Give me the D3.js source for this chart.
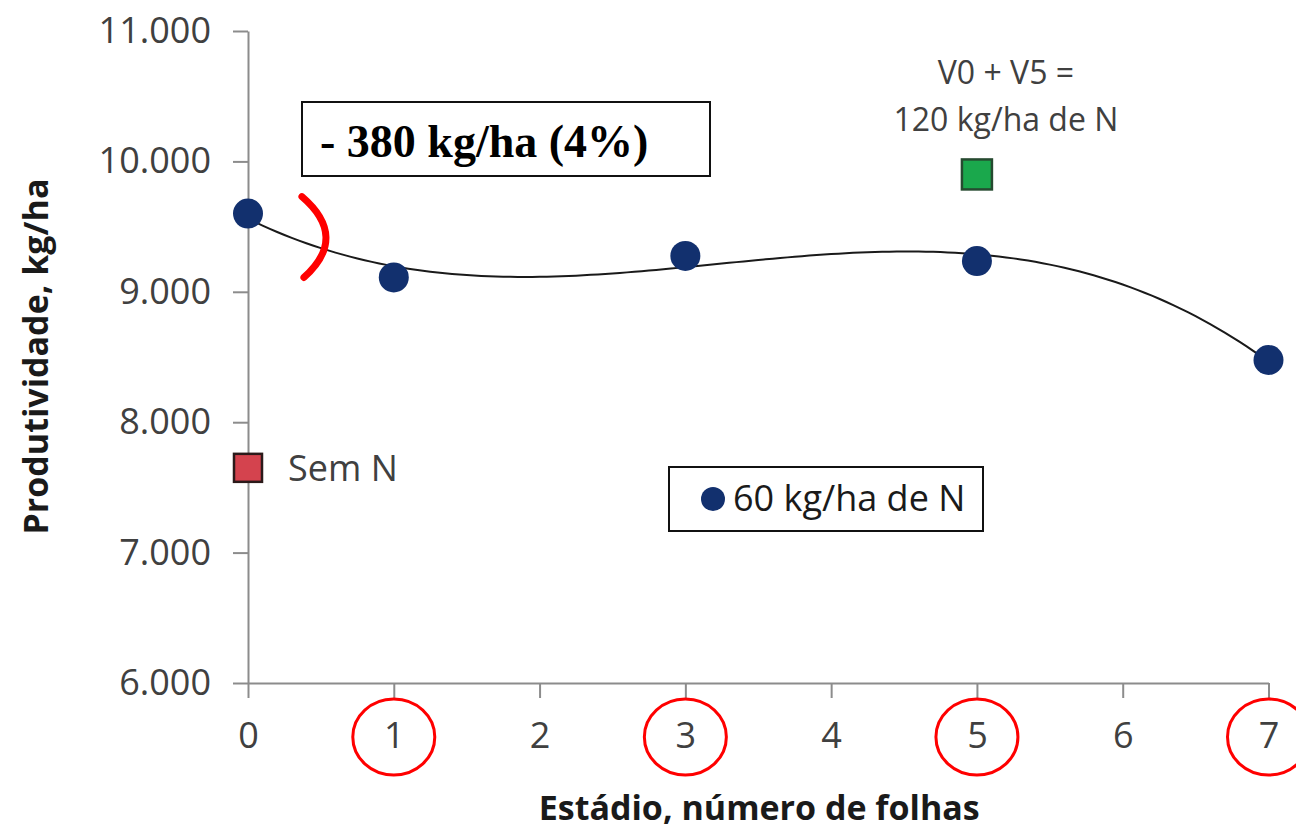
<!DOCTYPE html>
<html>
<head>
<meta charset="utf-8">
<script src="https://cdn.jsdelivr.net/npm/d3@7"></script>
<style>
  html, body { margin: 0; padding: 0; background: #fff; }
  svg { display: block; }
</style>
</head>
<body>
<svg id="chart" width="1296" height="830"></svg>
<script>
// Growth stage (number of leaves) at which 60 kg/ha of N was applied
const stages = [0, 1, 3, 5, 7];
// Grain yield, kg/ha, for 60 kg/ha de N
const yield60 = [9600, 9110, 9275, 9236, 8477];
// Control without nitrogen
const semNStage = [0];
const semNValue = [7650];
// Split application V0 + V5 (120 kg/ha de N)
const splitStage = [5];
const splitValue = [9900];
// Axis ticks
const xTicks = [0, 1, 2, 3, 4, 5, 6, 7];
const yTicks = [6000, 7000, 8000, 9000, 10000, 11000];
// Stages circled on the x axis
const circledStages = [1, 3, 5, 7];

const svg = d3.select("#chart");
const plotLeft = 248, plotRight = 1268.5, plotTop = 31, plotBottom = 683;

const x = d3.scaleLinear().domain([0, 7]).range([plotLeft, plotRight]);
const y = d3.scaleLinear().domain([6000, 11000]).range([plotBottom, plotTop]);

const ptBR = d3.formatLocale({ decimal: ",", thousands: ".", grouping: [3], currency: ["", ""] });
const fmt = ptBR.format(",d");

const sans = "'Open Sans', 'Noto Sans', sans-serif";
const axisGray = "#8c8c8c";
const textGray = "#404040";

// Y axis
const yAxis = svg.append("g")
  .attr("transform", `translate(${plotLeft},0)`)
  .call(d3.axisLeft(y).tickValues(yTicks).tickFormat(fmt).tickSize(15).tickSizeOuter(0).tickPadding(22));

// X axis
const xAxis = svg.append("g")
  .attr("transform", `translate(0,${plotBottom})`)
  .call(d3.axisBottom(x).tickValues(xTicks).tickFormat(d3.format("d")).tickSize(15).tickSizeOuter(0).tickPadding(24));

[yAxis, xAxis].forEach(g => {
  g.select(".domain").attr("stroke", axisGray).attr("stroke-width", 2);
  g.selectAll(".tick line").attr("stroke", axisGray).attr("stroke-width", 2);
  g.selectAll(".tick text")
    .attr("fill", textGray)
    .style("font-family", sans)
    .style("font-size", "36px");
});

// Axis titles
svg.append("text")
  .attr("x", (plotLeft + plotRight) / 2 + 1)
  .attr("y", 820)
  .attr("text-anchor", "middle")
  .style("font-family", sans).style("font-size", "34px").style("font-weight", 700)
  .attr("fill", "#1a1a1a")
  .text("Estádio, número de folhas");

svg.append("text")
  .attr("transform", `translate(48,${(178 + 535) / 2}) rotate(-90)`)
  .attr("text-anchor", "middle")
  .style("font-family", sans).style("font-size", "34px").style("font-weight", 700)
  .attr("fill", "#1a1a1a")
  .text("Produtividade, kg/ha");

// Cubic polynomial trend line fitted by least squares
function polyfit(xs, ys, order) {
  const n = order + 1;
  const A = Array.from({ length: n }, () => new Array(n + 1).fill(0));
  for (let i = 0; i < xs.length; i++) {
    for (let r = 0; r < n; r++) {
      for (let c = 0; c < n; c++) A[r][c] += Math.pow(xs[i], r + c);
      A[r][n] += ys[i] * Math.pow(xs[i], r);
    }
  }
  for (let p = 0; p < n; p++) {
    let max = p;
    for (let r = p + 1; r < n; r++) if (Math.abs(A[r][p]) > Math.abs(A[max][p])) max = r;
    [A[p], A[max]] = [A[max], A[p]];
    for (let r = p + 1; r < n; r++) {
      const f = A[r][p] / A[p][p];
      for (let c = p; c <= n; c++) A[r][c] -= f * A[p][c];
    }
  }
  const coef = new Array(n).fill(0);
  for (let r = n - 1; r >= 0; r--) {
    let s = A[r][n];
    for (let c = r + 1; c < n; c++) s -= A[r][c] * coef[c];
    coef[r] = s / A[r][r];
  }
  return coef;
}
const coef = polyfit(stages, yield60, 3);
const trend = d3.range(0, 7.0001, 0.05).map(t => [t, coef.reduce((s, c, i) => s + c * Math.pow(t, i), 0)]);

svg.append("path")
  .datum(trend)
  .attr("fill", "none")
  .attr("stroke", "#1a1a1a")
  .attr("stroke-width", 2)
  .attr("d", d3.line().x(d => x(d[0])).y(d => y(d[1])));

// 60 kg/ha de N points
svg.append("g").selectAll("circle")
  .data(stages.map((s, i) => ({ s, v: yield60[i] })))
  .join("circle")
  .attr("cx", d => x(d.s))
  .attr("cy", d => y(d.v))
  .attr("r", 15)
  .attr("fill", "#12306e");

// Sem N square
const sq = 28;
svg.append("g").selectAll("rect")
  .data(semNStage.map((s, i) => ({ s, v: semNValue[i] })))
  .join("rect")
  .attr("x", d => x(d.s) - sq / 2)
  .attr("y", d => y(d.v) - sq / 2)
  .attr("width", sq).attr("height", sq)
  .attr("fill", "#d4434e")
  .attr("stroke", "#2b1a1a").attr("stroke-width", 2.5);

svg.append("text")
  .attr("x", x(semNStage[0]) + 40)
  .attr("y", y(semNValue[0]) + 13)
  .style("font-family", sans).style("font-size", "36px")
  .attr("fill", textGray)
  .text("Sem N");

// V0 + V5 square
const sq2 = 30;
svg.append("g").selectAll("rect")
  .data(splitStage.map((s, i) => ({ s, v: splitValue[i] })))
  .join("rect")
  .attr("x", d => x(d.s) - sq2 / 2)
  .attr("y", d => y(d.v) - sq2 / 2)
  .attr("width", sq2).attr("height", sq2)
  .attr("fill", "#1aa84c")
  .attr("stroke", "#264a30").attr("stroke-width", 2.5);

const splitLabel = svg.append("text")
  .attr("text-anchor", "middle")
  .style("font-family", sans).style("font-size", "32px")
  .attr("fill", textGray);
splitLabel.append("tspan").attr("x", x(splitStage[0]) + 29).attr("y", 84).text("V0 + V5 =");
splitLabel.append("tspan").attr("x", x(splitStage[0]) + 29).attr("y", 131).text("120 kg/ha de N");

// Legend
const legend = svg.append("g");
legend.append("rect")
  .attr("x", 669).attr("y", 467).attr("width", 314).attr("height", 64)
  .attr("fill", "#fff").attr("stroke", "#111").attr("stroke-width", 2);
legend.append("circle").attr("cx", 713).attr("cy", 499).attr("r", 12).attr("fill", "#12306e");
legend.append("text")
  .attr("x", 733).attr("y", 511)
  .style("font-family", sans).style("font-size", "36px")
  .attr("fill", "#1a1a1a")
  .text("60 kg/ha de N");

// Yield loss annotation
const note = svg.append("g");
note.append("rect")
  .attr("x", 302).attr("y", 102).attr("width", 408).attr("height", 74)
  .attr("fill", "#fff").attr("stroke", "#111").attr("stroke-width", 2);
note.append("text")
  .attr("x", 320).attr("y", 157)
  .style("font-family", "'Liberation Serif', 'Times New Roman', serif")
  .style("font-size", "46px").style("font-weight", 700)
  .attr("fill", "#000")
  .text("- 380 kg/ha (4%)");

// Red bracket between stage 0 and stage 1 yields
const bx0 = x(0.37), bTop = y(9730), bBot = y(9110);
note.append("path")
  .attr("d", `M${bx0},${bTop} Q${bx0 + 47},${(bTop + bBot) / 2} ${bx0 + 2},${bBot}`)
  .attr("fill", "none")
  .attr("stroke", "#ff0000")
  .attr("stroke-width", 7)
  .attr("stroke-linecap", "round");

// Red ellipses around the application stages
svg.append("g").selectAll("ellipse")
  .data(circledStages)
  .join("ellipse")
  .attr("cx", d => x(d))
  .attr("cy", 737)
  .attr("rx", 41).attr("ry", 38)
  .attr("fill", "none")
  .attr("stroke", "#ff0000")
  .attr("stroke-width", 3);
</script>
</body>
</html>
